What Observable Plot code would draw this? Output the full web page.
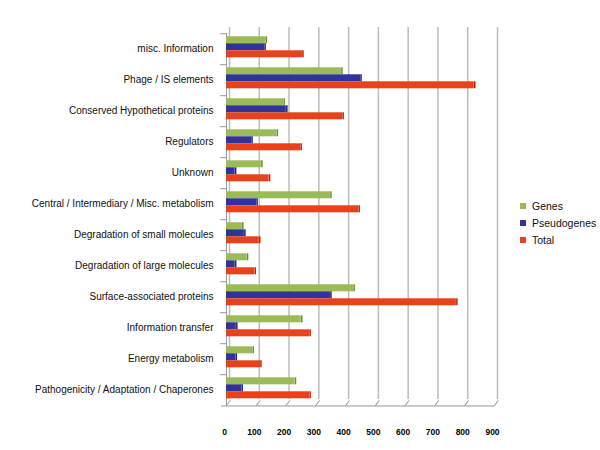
<!DOCTYPE html>
<html>
<head>
<meta charset="utf-8">
<script src="https://cdn.jsdelivr.net/npm/d3@7"></script>
<script src="https://cdn.jsdelivr.net/npm/@observablehq/plot@0.6"></script>
<style>
  body { margin: 0; background: #fff; font-family: "Liberation Sans", Arial, Helvetica, sans-serif; }
  #wrap { position: relative; width: 600px; height: 450px; }
  #legend { position: absolute; left: 520px; top: 198px; font-size: 10.5px; color: #111; line-height: 17px; }
  #legend .sw { display: inline-block; width: 6px; height: 6px; margin-right: 6px; vertical-align: 1px; }
</style>
</head>
<body>
<div id="wrap"><div id="chart"></div><div id="legend"></div></div>
<script>
const categories = [
  "misc. Information",
  "Phage / IS elements",
  "Conserved Hypothetical proteins",
  "Regulators",
  "Unknown",
  "Central / Intermediary / Misc. metabolism",
  "Degradation of small molecules",
  "Degradation of large molecules",
  "Surface-associated proteins",
  "Information transfer",
  "Energy metabolism",
  "Pathogenicity / Adaptation / Chaperones"
];
const seriesNames = ["Genes", "Pseudogenes", "Total"];
const genes       = [132, 386, 192, 169, 117, 349, 53, 69, 427, 251, 88, 230];
const pseudogenes = [128, 450, 201, 84, 29, 101, 60, 29, 349, 33, 31, 51];
const total       = [255, 832, 390, 249, 143, 444, 110, 95, 772, 279, 114, 279];
const xTicks = [0, 100, 200, 300, 400, 500, 600, 700, 800, 900];
const colors = ["#9bbb59", "#30339a", "#e8411c"];
const edgeColors = ["#6f8a3a", "#1c1f6a", "#a8290f"];

const seriesValues = [genes, pseudogenes, total];
const rows = [];
categories.forEach((c, i) => seriesNames.forEach((s, j) => rows.push({category: c, series: s, value: seriesValues[j][i]})));
const lastCat = categories[categories.length - 1];

const chart = Plot.plot({
  width: 600,
  height: 450,
  marginLeft: 226,
  marginRight: 106,
  marginTop: 28.7,
  marginBottom: 41.3,
  style: {fontFamily: "'Liberation Sans', Arial, Helvetica, sans-serif", color: "#000", background: "#fff"},
  x: {domain: [0, 900]},
  y: {domain: seriesNames, paddingInner: 0, paddingOuter: 0.7, align: 0.3, axis: null},
  fy: {domain: categories, padding: 0},
  color: {domain: seriesNames, range: colors},
  marks: [
    Plot.gridX(xTicks, {stroke: "#bcbcbc", strokeOpacity: 1, strokeWidth: 1.5, dx: 3, dy: -6}),
    Plot.ruleX([0], {stroke: "#999", strokeWidth: 1}),
    Plot.ruleY(categories, {fy: d => d, y: () => "Genes", x1: 0, x2: 0, insetLeft: -6, dy: -6.6, stroke: "#999", strokeWidth: 1}),
    Plot.ruleY([lastCat], {fy: d => d, y: () => "Total", x1: 0, x2: 900, insetLeft: -5, dy: 10.66, stroke: "#999", strokeWidth: 1}),
    Plot.vector(xTicks, {
      x: d => d, fy: () => lastCat, frameAnchor: "bottom", anchor: "start",
      rotate: 37, length: 6, stroke: "#999", strokeWidth: 1,
      shape: {draw(ctx, l) { ctx.moveTo(0, 0); ctx.lineTo(0, -l); }}
    }),
    Plot.barX(rows, {x: "value", y: "series", fy: "category", fill: "series"}),
    Plot.tickX(rows, {x: "value", y: "series", fy: "category", stroke: d => edgeColors[seriesNames.indexOf(d.series)], strokeWidth: 1.5, dx: 0.5}),
    Plot.axisX(xTicks, {tickSize: 0, tickPadding: 23, dx: -2, fontSize: 8.5, fontWeight: "bold", label: null}),
    Plot.axisFy({anchor: "left", tickSize: 0, tickPadding: 13, fontSize: 10, fill: "#111", label: null})
  ]
});
document.getElementById("chart").appendChild(chart);

const legend = document.getElementById("legend");
seriesNames.forEach((s, j) => {
  const row = document.createElement("div");
  row.innerHTML = `<span class="sw" style="background:${colors[j]}"></span>${s}`;
  legend.appendChild(row);
});
</script>
</body>
</html>
